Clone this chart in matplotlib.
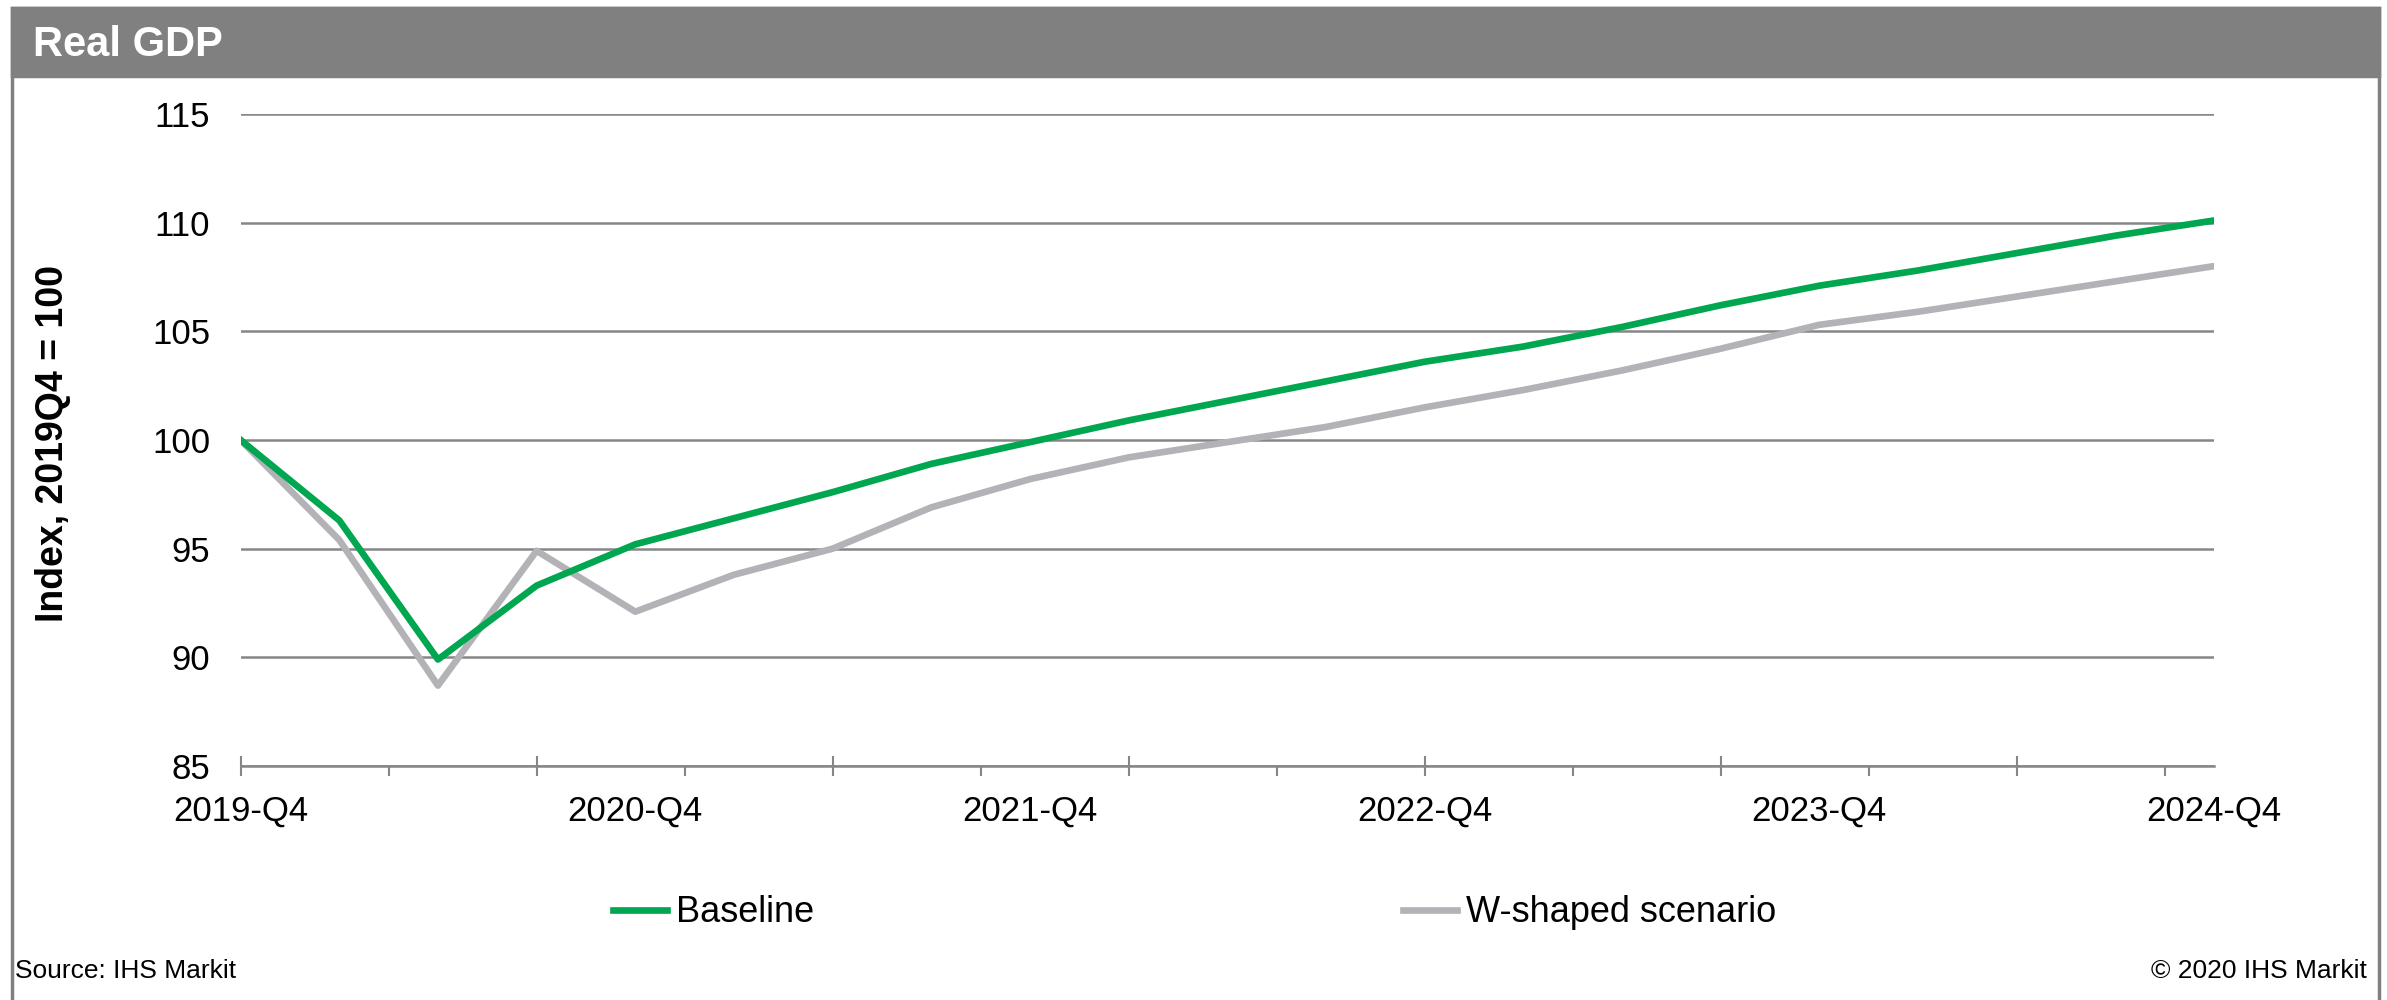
import matplotlib
matplotlib.use("Agg")
import matplotlib.pyplot as plt
from matplotlib.patches import Rectangle
import numpy as np

plt.rcParams["font.family"] = ["Liberation Sans", "DejaVu Sans"]

# quarters from 2019-Q4 to 2024-Q4
quarters = ["2019-Q4",
            "2020-Q1", "2020-Q2", "2020-Q3", "2020-Q4",
            "2021-Q1", "2021-Q2", "2021-Q3", "2021-Q4",
            "2022-Q1", "2022-Q2", "2022-Q3", "2022-Q4",
            "2023-Q1", "2023-Q2", "2023-Q3", "2023-Q4",
            "2024-Q1", "2024-Q2", "2024-Q3", "2024-Q4"]

baseline = [100.0, 96.3, 89.9, 93.3, 95.2, 96.4, 97.6, 98.9, 99.9, 100.9, 101.8,
            102.7, 103.6, 104.3, 105.2, 106.2, 107.1, 107.8, 108.6, 109.4, 110.1]
w_shaped = [100.0, 95.4, 88.7, 94.9, 92.1, 93.8, 95.0, 96.9, 98.2, 99.2, 99.9,
            100.6, 101.5, 102.3, 103.2, 104.2, 105.3, 105.9, 106.6, 107.3, 108.0]

series_names = ["Baseline", "W-shaped scenario"]
y_ticks = [85, 90, 95, 100, 105, 110, 115]

green = "#00A650"
light_gray = "#B3B3B7"
grid_gray = "#868686"
frame_gray = "#808080"

fig = plt.figure(figsize=(23.87, 10), dpi=100)

# outer frame and header band
fig.patches.append(Rectangle((12 / 2387, -0.01), (2379 - 12) / 2387, 1.0 - 0.008 + 0.01,
                             transform=fig.transFigure, fill=False,
                             edgecolor=frame_gray, linewidth=2.5))
fig.patches.append(Rectangle((12 / 2387, 1 - 76 / 1000), (2379 - 12) / 2387, 68 / 1000,
                             transform=fig.transFigure, facecolor=frame_gray,
                             edgecolor=frame_gray, linewidth=2.5))
fig.text(0.014, 0.955, "Real GDP", color="white", fontsize=30, fontweight="bold",
         ha="left", va="center")

ax = fig.add_axes([0.1008, 0.234, 0.9275 - 0.1008, 0.886 - 0.234])
x = np.arange(len(quarters))
ax.plot(x, baseline, color=green, lw=4.8, label=series_names[0], zorder=3)
ax.plot(x, w_shaped, color=light_gray, lw=4.8, label=series_names[1], zorder=2)

ax.set_xlim(0, len(quarters) - 1)
ax.set_ylim(85, 115)
ax.set_yticks(y_ticks)
ax.yaxis.grid(True, color=grid_gray, lw=1.8)
ax.set_axisbelow(True)
for s in ["top", "right", "left"]:
    ax.spines[s].set_visible(False)
ax.spines["bottom"].set_color(grid_gray)
ax.spines["bottom"].set_linewidth(1.8)
ax.tick_params(axis="y", length=0, pad=22, labelsize=25)

# tick marks: tall every 3 quarters, short in between
ax.set_xticks(np.arange(0, len(quarters) - 1, 3))
ax.set_xticks(np.arange(1.5, len(quarters) - 1, 3), minor=True)
ax.tick_params(axis="x", which="major", direction="inout", length=15, width=1.5,
               color=grid_gray, labelbottom=False)
ax.tick_params(axis="x", which="minor", direction="out", length=7, width=1.5,
               color=grid_gray)

# labels every 4 quarters
lab_axis = ax.secondary_xaxis("bottom")
lab_pos = list(range(0, len(quarters), 4))
lab_axis.set_xticks(lab_pos, [quarters[i] for i in lab_pos])
lab_axis.tick_params(length=0, pad=21, labelsize=25)
lab_axis.spines["bottom"].set_visible(False)

fig.text(0.0223, 0.557, "Index, 2019Q4 = 100", rotation=90, fontsize=27,
         fontweight="bold", ha="center", va="center")

fig.legend(loc="center", bbox_to_anchor=(0.5006, 0.087), ncol=2, frameon=False,
           fontsize=26, handlelength=1.5, handletextpad=0.25, columnspacing=16.3)

fig.text(0.0063, 0.029, "Source: IHS Markit", fontsize=19, ha="left", va="center")
fig.text(0.9916, 0.029, "\u00a9 2020 IHS Markit", fontsize=19, ha="right", va="center")

fig.savefig("out.png", dpi=100)
